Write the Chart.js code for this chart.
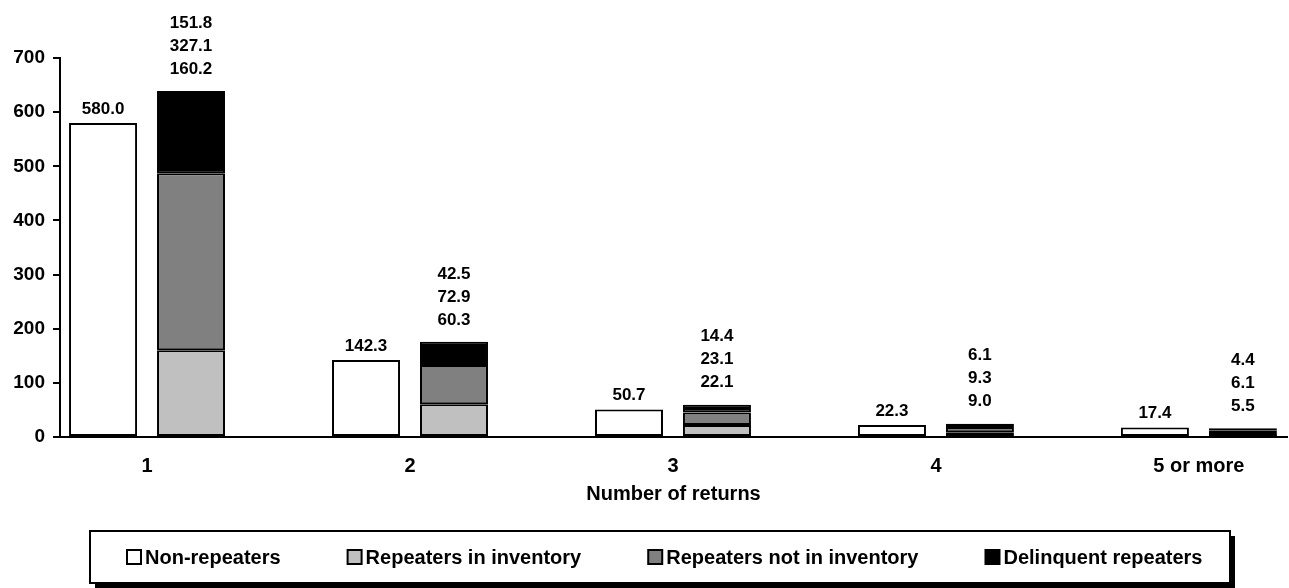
<!DOCTYPE html>
<html>
<head>
<meta charset="utf-8">
<title>Number of returns</title>
<script src="https://cdn.jsdelivr.net/npm/chart.js@4"></script>
<style>
  body { margin: 0; background: #fff; }
  #chart { display: block; }
</style>
</head>
<body>
<canvas id="chart" width="1289" height="588"></canvas>
<script>
// Данные графика
const categories = ['1', '2', '3', '4', '5 or more'];
const nonRepeaters = [580.0, 142.3, 50.7, 22.3, 17.4];
const inInventory = [160.2, 60.3, 22.1, 9.0, 5.5];
const notInInventory = [327.1, 72.9, 23.1, 9.3, 6.1];
const delinquent = [151.8, 42.5, 14.4, 6.1, 4.4];
const seriesNames = ['Non-repeaters', 'Repeaters in inventory', 'Repeaters not in inventory', 'Delinquent repeaters'];
const yMax = 700;
const yStep = 100;
const axisTitle = 'Number of returns';

const FONT = '"Liberation Sans", Arial, sans-serif';
Chart.defaults.font.family = FONT;
Chart.defaults.color = '#000';

// точки по оси x: 1..5
function toPoints(arr) {
  return arr.map((v, i) => ({ x: i + 1, y: v }));
}

// подписи над столбцами
const valueLabels = {
  id: 'valueLabels',
  afterDatasetsDraw(chart) {
    const ctx = chart.ctx;
    ctx.save();
    ctx.font = 'bold 17px ' + FONT;
    ctx.fillStyle = '#000';
    ctx.textAlign = 'center';
    ctx.textBaseline = 'middle';
    const nonMeta = chart.getDatasetMeta(0);
    const topMeta = chart.getDatasetMeta(3);
    categories.forEach((c, i) => {
      const bar = nonMeta.data[i];
      ctx.fillText(nonRepeaters[i].toFixed(1), bar.x, bar.y - 14);
      const top = topMeta.data[i];
      const lines = [inInventory[i], notInInventory[i], delinquent[i]];
      lines.forEach((v, k) => {
        ctx.fillText(v.toFixed(1), top.x, top.y - 22 - k * 23);
      });
    });
    ctx.restore();
  }
};

// легенда в рамке с тенью
const boxLegend = {
  id: 'boxLegend',
  afterDraw(chart) {
    const ctx = chart.ctx;
    const x = 90, y = 531, w = 1140, h = 52, shadow = 5;
    ctx.save();
    ctx.fillStyle = '#000';
    ctx.fillRect(x + shadow, y + shadow, w, h);
    ctx.fillStyle = '#fff';
    ctx.fillRect(x, y, w, h);
    ctx.strokeStyle = '#000';
    ctx.lineWidth = 2;
    ctx.strokeRect(x, y, w, h);

    ctx.font = 'bold 20px ' + FONT;
    ctx.textAlign = 'left';
    ctx.textBaseline = 'middle';
    const cy = y + h / 2;
    let cx = 127;
    chart.data.datasets.forEach(ds => {
      ctx.fillStyle = ds.backgroundColor;
      ctx.fillRect(cx, cy - 7, 14, 14);
      ctx.lineWidth = 2;
      ctx.strokeRect(cx, cy - 7, 14, 14);
      ctx.fillStyle = '#000';
      ctx.fillText(ds.label, cx + 18, cy + 1);
      cx += 18 + ctx.measureText(ds.label).width + 67;
    });
    ctx.restore();
  }
};

const colors = ['#ffffff', '#c0c0c0', '#808080', '#000000'];
const seriesData = [nonRepeaters, inInventory, notInInventory, delinquent];

const datasets = seriesData.map((arr, i) => ({
  label: seriesNames[i],
  data: toPoints(arr),
  backgroundColor: colors[i],
  borderColor: '#000',
  borderWidth: 2,
  borderSkipped: false,
  stack: i === 0 ? 'non' : 'rep',
  categoryPercentage: 0.669,
  barPercentage: 0.773
}));

new Chart(document.getElementById('chart'), {
  type: 'bar',
  data: { datasets: datasets },
  options: {
    responsive: false,
    animation: false,
    layout: { padding: { top: 58, right: 2, bottom: 82, left: 0 } },
    plugins: {
      legend: { display: false },
      tooltip: { enabled: false }
    },
    scales: {
      x: {
        type: 'linear',
        min: 0.669,
        max: 5.335,
        offset: false,
        stacked: true,
        grid: { display: false, offset: false },
        border: { display: true, color: '#000', width: 2 },
        afterBuildTicks: s => { s.ticks = categories.map((c, i) => ({ value: i + 1 })); },
        afterFit: s => { s.height = 69; },
        ticks: {
          padding: 9,
          font: { size: 20, weight: 'bold' },
          callback: v => categories[v - 1]
        },
        title: {
          display: true,
          text: axisTitle,
          font: { size: 20, weight: 'bold' },
          padding: { top: 0, bottom: 0 }
        }
      },
      y: {
        min: 0,
        max: yMax,
        stacked: true,
        afterFit: s => { s.width = 60; },
        grid: {
          display: true,
          drawOnChartArea: false,
          drawTicks: true,
          tickLength: 7,
          color: '#000',
          lineWidth: 2
        },
        border: { display: true, color: '#000', width: 2 },
        ticks: {
          stepSize: yStep,
          padding: 8,
          font: { size: 19, weight: 'bold' }
        }
      }
    }
  },
  plugins: [valueLabels, boxLegend]
});
</script>
</body>
</html>
